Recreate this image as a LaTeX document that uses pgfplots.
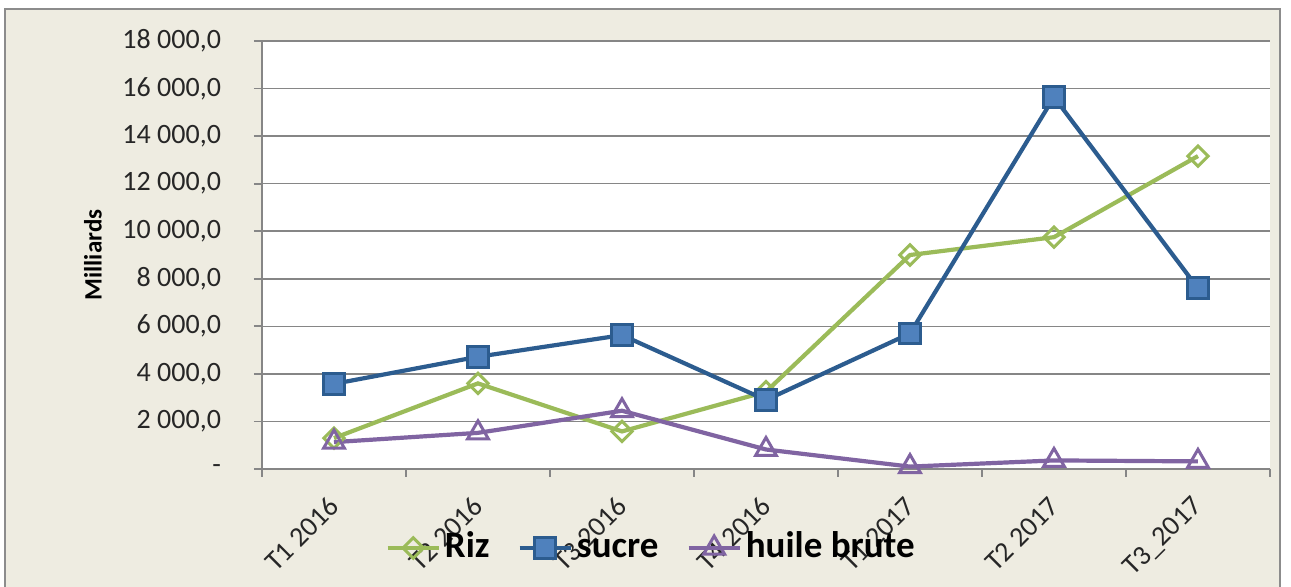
\documentclass[border=0pt]{standalone}
\usepackage{fontspec}
\setmainfont{Carlito}
\usepackage{pgfplots}
\pgfplotsset{compat=1.18}

\definecolor{bgbeige}{HTML}{EEECE1}
\definecolor{framegray}{HTML}{8C8C8C}
\definecolor{gridgray}{HTML}{868686}
\definecolor{rizgreen}{HTML}{9BBB59}
\definecolor{sucreline}{HTML}{2C5C8F}
\definecolor{sucrefill}{HTML}{4F81BD}
\definecolor{huilepurple}{HTML}{8064A2}

\begin{document}
\begin{tikzpicture}
% page = 1291x587 px at 0.5pt per px, axis box at origin
\fill[white] (-131pt,-59pt) rectangle (514.5pt,234.5pt);
\useasboundingbox (-131pt,-59pt) rectangle (514.5pt,234.5pt);
\fill[bgbeige] (-128.5pt,-62pt) rectangle (509pt,230pt);
\draw[framegray, line width=1pt] (-128.5pt,-62pt) -- (-128.5pt,230pt) -- (509pt,230pt) -- (509pt,-62pt);

\begin{axis}[
  at={(0pt,0pt)}, anchor=south west,
  scale only axis,
  width=504pt, height=214pt,
  axis background/.style={fill=white},
  axis lines*=left,
  axis line style={gridgray, line width=0.9pt},
  xmin=0.5, xmax=7.5,
  ymin=0, ymax=18000,
  scaled y ticks=false,
  xtick={1,...,7},
  xticklabels={T1 2016, T2 2016, T3 2016, T4 2016, T1 2017, T2 2017, T3\_2017},
  minor xtick={0.5,1.5,...,7.5},
  major x tick style={draw=none},
  minor x tick style={gridgray, line width=0.9pt},
  ytick={0,2000,...,18000},
  yticklabels={{-\hspace{6.5pt}}, {2 000,0}, {4 000,0}, {6 000,0}, {8 000,0}, {10 000,0}, {12 000,0}, {14 000,0}, {16 000,0}, {18 000,0}},
  y tick style={gridgray, line width=0.9pt},
  tick align=outside,
  major tick length=4pt, minor tick length=4pt,
  ymajorgrids,
  major grid style={gridgray, line width=0.75pt},
  tick label style={font=\fontsize{14}{16}\selectfont, text=black!85},
  yticklabel style={xshift=-13pt},
  xticklabel style={xshift=2.5pt, yshift=-10pt, rotate=45, anchor=east},
  ylabel={Milliards},
  every axis y label/.style={at={(axis description cs:-0.1677,0.5)}, rotate=90, anchor=center, font=\fontsize{12.5}{14}\selectfont\bfseries},
  legend columns=3,
  legend style={at={(0.387,-0.1846)}, anchor=center, draw=none, fill=none,
    font=\fontsize{18.5}{20}\selectfont\bfseries,
    nodes={text height=13pt, text depth=4pt},
    /tikz/every even column/.append style={column sep=12pt}},
  legend image code/.code={\draw[mark repeat=2,mark phase=2,#1] plot coordinates {(0cm,0cm) (0.45cm,0cm) (0.9cm,0cm)};},
  every axis plot/.append style={line width=2.1pt},
]
\addplot[rizgreen, mark=square, mark size=3.6pt, mark options={rotate=45, fill=white, line width=1.5pt}]
  coordinates {(1,1300) (2,3600) (3,1580) (4,3250) (5,9000) (6,9750) (7,13160)};
\addlegendentry{Riz}
\addplot[sucreline, mark=square*, mark size=5.2pt, mark options={fill=sucrefill, draw=sucreline, line width=1.5pt}]
  coordinates {(1,3580) (2,4720) (3,5630) (4,2900) (5,5700) (6,15640) (7,7600)};
\addlegendentry{sucre}
\addplot[huilepurple, mark=triangle, mark size=6pt, mark options={fill=white, line width=1.5pt}]
  coordinates {(1,1130) (2,1520) (3,2450) (4,820) (5,100) (6,360) (7,320)};
\addlegendentry{huile brute}
\end{axis}
\end{tikzpicture}
\end{document}
